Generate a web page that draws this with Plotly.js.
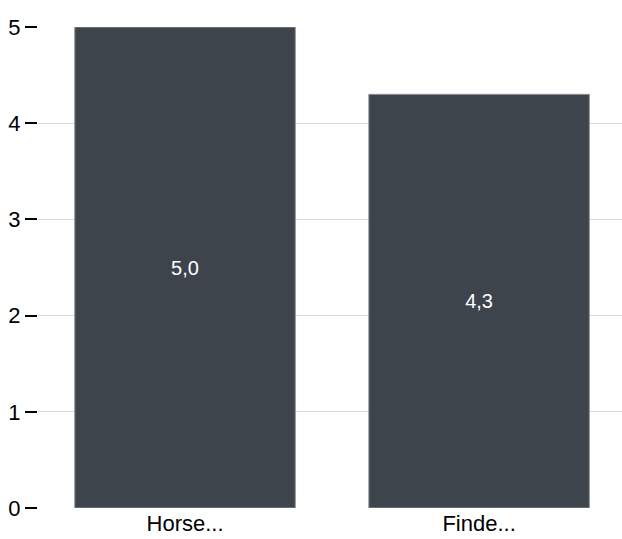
<!DOCTYPE html>
<html>
<head>
<meta charset="utf-8">
<script src="https://cdn.plot.ly/plotly-3.0.1.min.js"></script>
<style>html,body{margin:0;padding:0;background:#fff;}#chart{width:622px;height:539px;}</style>
</head>
<body>
<div id="chart"></div>
<script>
var categories = ["Horse...", "Finde..."];
var values = [5.0, 4.3];
var yTicks = [0, 1, 2, 3, 4, 5];

var trace = {
  type: "bar",
  x: categories,
  y: values,
  marker: {color: "#3e444c", line: {color: "#8f959c", width: 1}},
  texttemplate: "%{y:.1f}",
  textposition: "inside",
  insidetextanchor: "middle",
  textfont: {color: "#ffffff", size: 20, family: "Liberation Sans, Arial, sans-serif"},
  hoverinfo: "none"
};

var layout = {
  width: 622, height: 539,
  margin: {l: 38, r: 0, t: 27, b: 31, pad: 0},
  separators: ",.",
  bargap: 0.25,
  paper_bgcolor: "#ffffff",
  plot_bgcolor: "#ffffff",
  font: {family: "Liberation Sans, Arial, sans-serif", size: 22, color: "#000000"},
  showlegend: false,
  xaxis: {
    type: "category",
    range: [-0.5, 1.486],
    showgrid: false,
    zeroline: false,
    showline: false,
    ticks: "",
    tickfont: {size: 22, color: "#000"}
  },
  yaxis: {
    range: [0, 5],
    tickvals: yTicks,
    ticktext: yTicks.map(String),
    showgrid: true,
    gridcolor: "#d9d9d9",
    gridwidth: 1,
    zeroline: false,
    showline: false,
    ticks: "outside",
    ticklen: 12,
    tickwidth: 2,
    tickcolor: "#000",
    tickfont: {size: 22, color: "#000"}
  }
};

Plotly.newPlot("chart", [trace], layout, {staticPlot: true, displayModeBar: false});
</script>
</body>
</html>
